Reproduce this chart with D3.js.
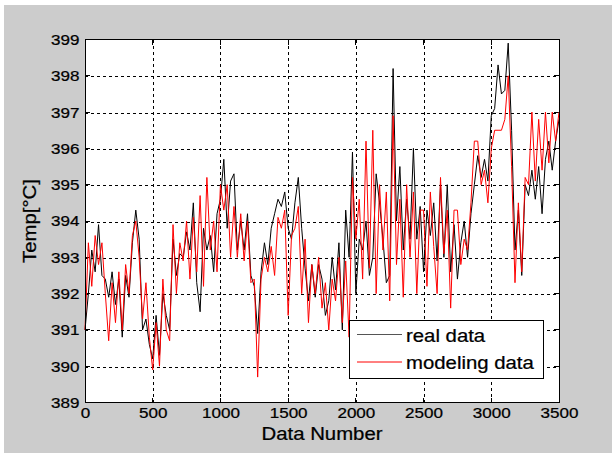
<!DOCTYPE html>
<html>
<head>
<meta charset="utf-8" />
<script src="https://d3js.org/d3.v7.min.js"></script>
<style>
  body { margin: 0; background: #fff; }
  text { font-family: "Liberation Sans", Arial, sans-serif; fill: #000; stroke: #000; stroke-width: 0.25px; }
  .grid line { stroke: #000; stroke-dasharray: 3,3; shape-rendering: crispEdges; }
  .line { fill: none; stroke-width: 1px; }
</style>
</head>
<body>
<svg width="612" height="455"></svg>
<script>

// x ticks / y ticks
var xTicks = [0, 500, 1000, 1500, 2000, 2500, 3000, 3500];
var yTicks = [389, 390, 391, 392, 393, 394, 395, 396, 397, 398, 399];

var realData = [
  391.0, 392.0, 393.2, 392.6, 393.9, 392.5, 392.4, 391.9, 392.6, 391.7,
  392.4, 390.8, 392.5, 391.9, 393.4, 394.3, 393.5, 391.0, 391.3, 390.6,
  390.2, 391.4, 390.3, 392.0, 391.4, 391.0, 393.5, 392.5, 393.1, 393.0,
  393.7, 393.2, 394.5, 392.3, 391.5, 393.8, 393.2, 393.6, 392.6, 394.2,
  394.6, 395.7, 393.8, 395.1, 395.3, 393.2, 394.0, 393.2, 394.2, 392.5,
  392.2, 390.9, 392.6, 393.4, 392.8, 393.8, 394.2, 394.6, 394.4, 394.8,
  393.8, 393.5, 394.5, 395.2, 393.8, 392.7, 391.8, 392.8, 391.9, 392.8,
  392.4, 391.4, 391.8, 393.0, 392.1, 393.4, 391.0, 394.3, 393.0, 395.9,
  392.0, 393.5, 393.2, 394.0, 392.5, 393.0, 395.3, 394.5, 393.5, 392.3,
  392.5, 398.2, 394.0, 395.5, 393.2, 394.6, 393.5, 396.0, 393.5, 394.4,
  392.6, 394.3, 393.6, 394.5, 392.9, 395.0, 393.0, 395.0, 392.6, 393.9,
  392.4, 393.4, 394.0, 393.0, 394.2, 395.0, 395.8, 395.2, 395.7, 395.1,
  396.9, 397.1, 398.3, 397.5, 397.6, 398.9, 396.5, 393.2, 394.3, 392.5,
  395.0, 394.7, 395.4, 394.6, 395.5, 394.2, 395.7, 396.2, 395.4, 396.2,
  396.8
];

var modelData = [
  391.0, 393.4, 392.2, 393.6, 392.8, 393.4, 392.0, 390.7, 392.3, 391.2,
  392.6, 391.0, 392.8, 392.0, 393.6, 394.0, 393.0, 391.3, 392.3, 390.8,
  389.9, 391.2, 390.0, 392.4, 391.0, 390.7, 393.9, 392.0, 393.4, 392.9,
  394.0, 392.4, 394.1, 392.6, 394.7, 392.2, 395.2, 393.2, 394.0, 392.6,
  395.0, 394.3, 395.0, 393.0, 394.4, 393.0, 394.2, 392.9, 394.0, 392.3,
  392.4, 389.7, 392.4, 393.0, 392.6, 393.3, 392.5, 394.1, 393.8, 394.3,
  391.4, 393.6, 393.8, 394.4, 392.0, 393.5, 391.2, 392.8, 392.0, 393.0,
  391.6, 392.3, 391.0, 392.4, 391.8, 393.0, 391.2, 392.9, 390.8, 395.2,
  393.5, 394.6, 392.4, 396.2, 392.7, 396.5, 392.0, 395.0, 393.2, 394.8,
  391.8, 396.9, 392.8, 394.6, 391.9, 395.0, 393.0, 394.8, 392.0, 394.3,
  394.3, 392.2, 394.8, 393.3, 392.0, 395.2, 393.1, 394.3, 391.6, 394.3,
  394.3, 392.8, 393.5, 393.2, 394.5, 396.2, 396.2, 395.0, 395.4, 394.5,
  396.0, 396.5, 396.5, 396.5, 396.8, 398.0, 395.5, 392.3, 394.5, 392.6,
  395.2, 395.0, 397.0, 395.1, 396.8, 395.4, 397.0, 395.6, 397.0, 396.2,
  397.0
];

var seriesNames = ["real data", "modeling data"];
var seriesColors = ["#000000", "#ff0000"];

var svg = d3.select("svg"),
    margin = {top: 39.5, right: 53, bottom: 52.5, left: 85},
    width = +svg.attr("width") - margin.left - margin.right,
    height = +svg.attr("height") - margin.top - margin.bottom;

// figure background
svg.append("rect")
  .attr("x", 4).attr("y", 5)
  .attr("width", 608).attr("height", 448)
  .attr("fill", "#cccccc");

var x = d3.scaleLinear().domain([0, 3500]).range([0, width]),
    y = d3.scaleLinear().domain([389, 399]).range([height, 0]);

var g = svg.append("g")
  .attr("transform", "translate(" + margin.left + "," + margin.top + ")");

g.append("rect")
  .attr("width", width).attr("height", height)
  .attr("fill", "#fff");

// grid
var grid = g.append("g").attr("class", "grid");
grid.selectAll(".vx")
  .data(xTicks.slice(1, -1))
  .enter().append("line")
  .attr("x1", function(d) { return Math.round(x(d)) + 0.5; })
  .attr("x2", function(d) { return Math.round(x(d)) + 0.5; })
  .attr("y1", 0).attr("y2", height);
grid.selectAll(".hy")
  .data(yTicks.slice(1, -1))
  .enter().append("line")
  .attr("y1", function(d) { return Math.round(y(d)) + 0.5; })
  .attr("y2", function(d) { return Math.round(y(d)) + 0.5; })
  .attr("x1", 0).attr("x2", width);

// inner tick marks on all sides
var tk = g.append("g").attr("stroke", "#000").attr("shape-rendering", "crispEdges");
xTicks.forEach(function(d) {
  tk.append("line").attr("x1", x(d)).attr("x2", x(d)).attr("y1", height).attr("y2", height - 5);
  tk.append("line").attr("x1", x(d)).attr("x2", x(d)).attr("y1", 0).attr("y2", 5);
});
yTicks.forEach(function(d) {
  tk.append("line").attr("y1", y(d)).attr("y2", y(d)).attr("x1", 0).attr("x2", 5);
  tk.append("line").attr("y1", y(d)).attr("y2", y(d)).attr("x1", width).attr("x2", width - 5);
});

// lines
var line = d3.line()
  .x(function(d, i) { return x(i * 25); })
  .y(function(d) { return y(d); });

g.append("path")
  .attr("class", "line")
  .attr("d", line(realData))
  .style("stroke", seriesColors[0]);

g.append("path")
  .attr("class", "line")
  .attr("d", line(modelData))
  .style("stroke", seriesColors[1]);

// frame
g.append("rect")
  .attr("width", width).attr("height", height)
  .attr("fill", "none").attr("stroke", "#000")
  .attr("shape-rendering", "crispEdges");

// axes
var xAxis = g.append("g")
  .attr("transform", "translate(0," + height + ")")
  .call(d3.axisBottom(x).tickValues(xTicks).tickSize(0).tickPadding(4.5).tickFormat(d3.format("d")));
var yAxis = g.append("g")
  .call(d3.axisLeft(y).tickValues(yTicks).tickSize(0).tickPadding(5).tickFormat(d3.format("d")));

[xAxis, yAxis].forEach(function(a) {
  a.select(".domain").remove();
  a.selectAll("text")
    .style("font-size", "15.5px")
    .style("font-family", "'Liberation Sans', Arial, sans-serif")
    .attr("fill", "#000")
    .attr("transform", "scale(1.1,1)");
});

// axis titles
svg.append("text")
  .attr("transform", "translate(" + (margin.left + width / 2) + ",440) scale(1.1,1)")
  .attr("text-anchor", "middle")
  .style("font-size", "18.5px")
  .text("Data Number");

svg.append("text")
  .attr("transform", "translate(36," + (margin.top + height / 2) + ") rotate(-90) scale(1.1,1)")
  .attr("text-anchor", "middle")
  .style("font-size", "18.5px")
  .text("Temp[°C]");

// legend
var legend = svg.append("g").attr("transform", "translate(349,320)");
legend.append("rect")
  .attr("x", 0.5).attr("y", 0.5)
  .attr("width", 194).attr("height", 58)
  .attr("fill", "#fff").attr("stroke", "#000");

legend.selectAll(".lg")
  .data(seriesNames)
  .enter().append("g")
  .each(function(d, i) {
    var row = d3.select(this).attr("transform", "translate(0," + (14.5 + i * 27.5) + ")");
    row.append("line")
      .attr("x1", 8).attr("x2", 53)
      .attr("stroke", i === 0 ? "#555" : seriesColors[1])
      .attr("stroke-width", 1);
    row.append("text")
      .attr("transform", "translate(57,7) scale(1.1,1)")
      .style("font-size", "18.5px")
      .text(d);
  });

</script>
</body>
</html>
